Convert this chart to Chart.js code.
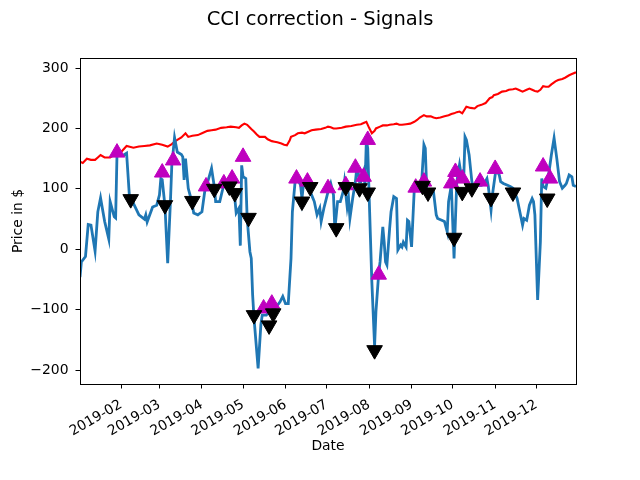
<!DOCTYPE html>
<html>
<head>
<meta charset="utf-8">
<script src="https://cdn.jsdelivr.net/npm/chart.js@4.4.1/dist/chart.umd.min.js"></script>
<style>
  html, body { margin: 0; padding: 0; background: #fff; }
</style>
</head>
<body>
<canvas id="cciChart" width="640" height="480"></canvas>
<script>
// x values are day numbers counted from 2019-01-01 (day 0)
const monthTicks = [31, 59, 90, 120, 151, 181, 212, 243, 273, 304, 334];
const monthLabels = ['2019-02', '2019-03', '2019-04', '2019-05', '2019-06', '2019-07', '2019-08', '2019-09', '2019-10', '2019-11', '2019-12'];
const yTicks = [-200, -100, 0, 100, 200, 300];

const priceDays = [1, 3, 6, 9, 12, 14, 16, 19, 23, 28, 31, 35, 40, 44, 48, 52, 57, 61, 65, 68, 70, 72, 75, 78, 80, 83, 87, 90, 94, 97,
  100, 104, 108, 111, 115, 117, 119, 121, 123, 126, 128, 130, 132, 134, 136, 138, 141, 143, 145, 148, 150, 152, 154, 155, 158, 160, 163, 165, 168, 170,
  173, 177, 180, 182, 184, 186, 188, 192, 195, 199, 203, 206, 208, 210, 212, 214, 216, 217, 220, 222, 225, 227, 230, 232, 234, 236, 239, 242, 245, 247,
  249, 252, 254, 257, 259, 261, 264, 267, 270, 272, 274, 276, 278, 280, 283, 286, 289, 291, 294, 297, 300, 302, 303, 306, 309, 312, 314, 317, 319, 321,
  324, 327, 329, 331, 333, 335, 337, 339, 341, 343, 345, 348, 350, 353, 355, 358, 360, 363];
const price = [145, 143, 150, 148, 148, 152, 156, 152, 152, 159, 161, 171, 168, 170, 171, 172, 175, 173, 170, 174, 178, 181, 185, 192, 186, 188, 189, 192, 196, 197,
  198, 201, 202, 203, 202, 201, 205, 208, 206, 199, 195, 190, 186, 186, 186, 182, 179, 178, 177, 175, 173, 172, 180, 186, 189, 192, 193, 192, 195, 197,
  198, 199, 201, 203, 202, 200, 200, 201, 203, 204, 206, 207, 209, 211, 201, 192, 196, 200, 203, 205, 205, 206, 207, 208, 206, 206, 207, 208, 211, 214,
  218, 222, 220, 220, 218, 217, 218, 220, 222, 224, 225, 227, 228, 225, 236, 234, 233, 237, 239, 242, 250, 252, 255, 257, 261, 262, 264, 265, 266, 264,
  261, 264, 266, 264, 262, 261, 264, 270, 269, 269, 273, 278, 280, 282, 284, 288, 290, 293];

const cciDays = [1, 2, 5, 7, 9, 12, 14, 16, 19, 22, 23, 25, 26, 27, 28, 33, 35, 37, 40, 44, 48, 49, 50, 54, 57, 59, 60, 61, 63, 65,
  67, 68, 70, 72, 75, 76, 77, 78, 80, 82, 84, 87, 90, 92, 94, 97, 99, 100, 103, 105, 106, 109, 111, 114, 115, 117, 118, 119, 120, 122,
  123, 125, 126, 127, 128, 131, 133, 134, 137, 139, 143, 146, 147, 149, 151, 153, 155, 156, 158, 160, 162, 163, 164, 167, 170, 172, 174, 176, 177, 179,
  182, 184, 186, 187, 189, 191, 193, 194, 196, 197, 198, 200, 202, 203, 204, 205, 206, 208, 209, 210, 211, 212, 213, 214, 216, 217, 219, 220, 222, 223,
  224, 225, 227, 228, 230, 232, 233, 235, 236, 237, 239, 240, 241, 243, 245, 246, 248, 250, 252, 253, 254, 256, 259, 261, 262, 265, 267, 269, 270, 272,
  273, 274, 276, 278, 280, 281, 282, 283, 285, 287, 288, 290, 292, 294, 296, 298, 299, 300, 301, 302, 304, 305, 307, 308, 310, 313, 315, 317, 320, 322,
  324, 325, 327, 328, 329, 331, 332, 333, 335, 337, 338, 339, 341, 343, 345, 347, 349, 351, 353, 355, 356, 358, 360, 361, 363];
const cci = [-46, -21, -12, 41, 40, -3, 62, 85, 46, 17, 79, 62, 54, 52, 156, 156, 159, 90, 76, 57, 50, 57, 45, 70, 73, 90, 117, 115, 72, -23,
  79, 139, 185, 161, 157, 153, 115, 150, 101, 84, 60, 57, 62, 95, 110, 134, 104, 79, 79, 98, 112, 98, 112, 84, 60, 68, 6, 139, 120, 117,
  51, -4, -15, -76, -114, -197, -125, -109, -109, -103, -98, -90, -87, -78, -90, -90, -15, 62, 112, 115, 106, 84, 106, 109, 90, 79, 57, 68, 46, 68,
  95, 109, 90, 33, 79, 79, 95, 112, 70, 84, 51, 84, 112, 134, 128, 112, 112, 128, 106, 181, 167, 90, 18, -54, -160, -103, -40, -21, 37, 12,
  -21, -26, 35, 62, 87, 84, -1, 7, 4, 12, 4, 48, 46, 4, 101, 104, 104, 98, 173, 167, 101, 95, 95, 57, 51, 48, 46, 29, 79, 106,
  46, -15, 112, 140, 112, 112, 186, 181, 156, 112, 104, 104, 106, 106, 109, 117, 104, 84, 65, 90, 123, 131, 123, 112, 109, 106, 104, 101, 84, 62,
  40, 51, 48, 60, 73, 84, 79, 57, -84, 12, 117, 104, 101, 123, 156, 184, 150, 112, 101, 106, 109, 123, 120, 106, 104];

const buyDays = [28, 61, 69, 93, 106, 112, 120, 135, 141, 159, 167, 182, 195, 202, 208, 211, 219, 246, 252, 272, 275, 280, 293, 304, 339, 344];
const buyValues = [160, 127, 147, 104, 109, 117, 153, -98, -90, 117, 112, 101, 106, 135, 120, 181, -42, 102, 112, 109, 128, 117, 112, 133, 137, 117];

const sellDays = [38, 63, 83, 99, 110, 114, 124, 128, 139, 142, 163, 169, 188, 195, 205, 211, 216, 251, 255, 274, 280, 287, 301, 317, 342];
const sellValues = [83, 73, 80, 100, 104, 93, 52, -109, -126, -106, 79, 103, 35, 103, 101, 94, -167, 105, 94, 19, 95, 101, 85, 94, 84];

const toPoints = (xs, ys) => xs.map((x, i) => ({x: x, y: ys[i]}));

Chart.defaults.font.family = 'DejaVu Sans';
Chart.defaults.color = '#000';

// matplotlib style box around the axes
const frame = {
    id: 'frame',
    afterDatasetsDraw(chart) {
        const a = chart.chartArea;
        const ctx = chart.ctx;
        ctx.save();
        ctx.strokeStyle = '#000';
        ctx.lineWidth = 1;
        ctx.strokeRect(Math.round(a.left) + 0.5, Math.round(a.top) + 0.5, Math.round(a.right - a.left), Math.round(a.bottom - a.top));
        ctx.restore();
    }
};

new Chart('cciChart', {
    type: 'scatter',
    data: {
        datasets: [
            {
                label: 'Price',
                data: toPoints(priceDays, price),
                showLine: true,
                borderColor: '#ff0000',
                borderWidth: 2.1,
                pointRadius: 0,
                tension: 0,
                order: 4
            },
            {
                label: 'CCI',
                data: toPoints(cciDays, cci),
                showLine: true,
                borderColor: '#1f77b4',
                borderWidth: 2.8,
                pointRadius: 0,
                tension: 0,
                order: 3
            },
            {
                label: 'Buy',
                data: toPoints(buyDays, buyValues),
                pointStyle: 'triangle',
                pointRadius: 9,
                backgroundColor: '#bf00bf',
                borderColor: '#bf00bf',
                borderWidth: 1,
                order: 2
            },
            {
                label: 'Sell',
                data: toPoints(sellDays, sellValues),
                pointStyle: 'triangle',
                rotation: 180,
                pointRadius: 9,
                backgroundColor: '#000',
                borderColor: '#000',
                borderWidth: 1,
                order: 1
            }
        ]
    },
    options: {
        responsive: false,
        animation: false,
        devicePixelRatio: 1,
        layout: {
            padding: 0
        },
        plugins: {
            legend: { display: false },
            tooltip: { enabled: false },
            title: {
                display: true,
                text: 'CCI correction - Signals',
                font: { size: 19.5, weight: 'normal' },
                padding: { top: 8, bottom: 26.6 }
            }
        },
        scales: {
            x: {
                type: 'linear',
                min: 1,
                max: 363,
                afterBuildTicks: (axis) => { axis.ticks = monthTicks.map(v => ({value: v})); },
                afterFit: (axis) => { axis.height = 96; },
                grid: { drawOnChartArea: false, tickLength: 4.5, color: '#000' },
                border: { color: '#000' },
                ticks: {
                    autoSkip: false,
                    maxRotation: 30,
                    minRotation: 30,
                    padding: 8,
                    font: { size: 13.9 },
                    callback: (value, index) => monthLabels[index]
                },
                title: {
                    display: true,
                    text: 'Date',
                    font: { size: 13.9 },
                    padding: { top: 0, bottom: 25.7 }
                }
            },
            y: {
                min: -223,
                max: 316.6,
                afterBuildTicks: (axis) => { axis.ticks = yTicks.map(v => ({value: v})); },
                afterFit: (axis) => { axis.width = 80; },
                grid: { drawOnChartArea: false, tickLength: 4.5, color: '#000' },
                border: { color: '#000' },
                ticks: {
                    padding: 7,
                    font: { size: 13.9 },
                    callback: (value) => value < 0 ? '\u2212' + Math.abs(value) : String(value)
                },
                title: {
                    display: true,
                    text: 'Price in $',
                    font: { size: 13.9 },
                    padding: { top: 9.7, bottom: 0 }
                }
            },
            // empty axis that only holds the right margin, so the title stays centred on the figure
            yRight: {
                position: 'right',
                min: -223,
                max: 316.6,
                afterFit: (axis) => { axis.width = 64; },
                grid: { display: false },
                border: { display: false },
                ticks: { display: false }
            }
        }
    },
    plugins: [frame]
});
</script>
</body>
</html>
